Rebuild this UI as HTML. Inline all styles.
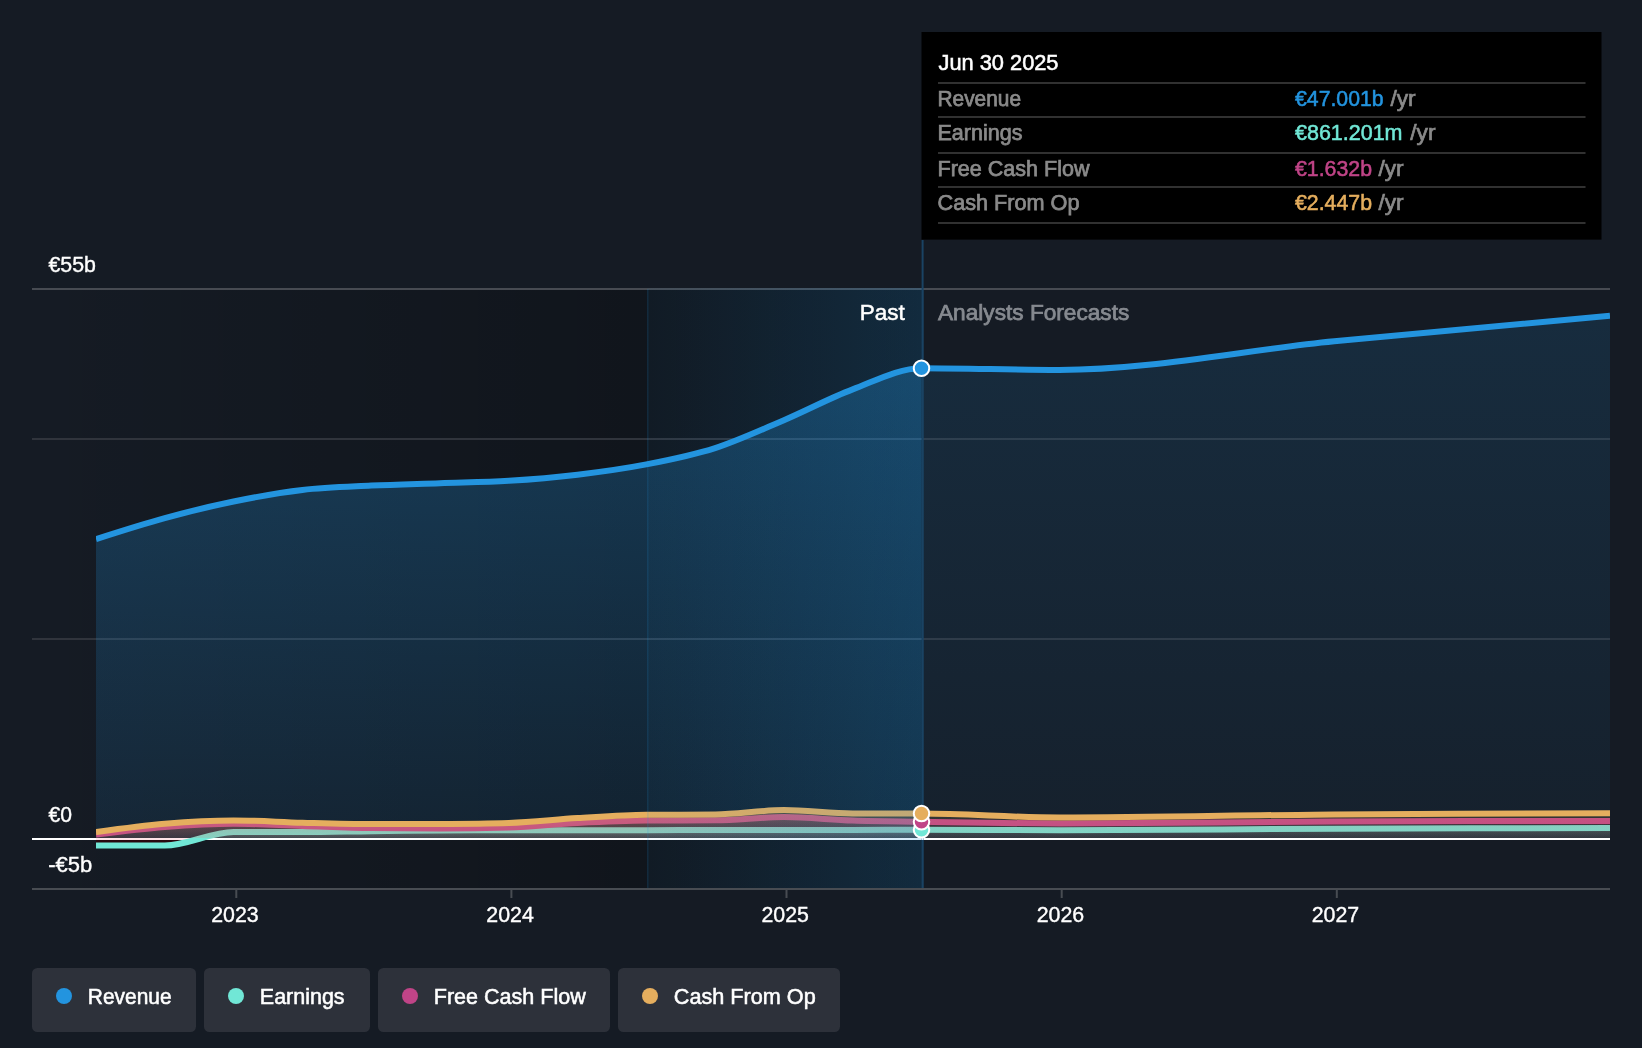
<!DOCTYPE html><html><head><meta charset="utf-8"><title>Earnings and Revenue</title>
<style>html,body{margin:0;padding:0;background:#151B24;}body{width:1642px;height:1048px;overflow:hidden;}svg{display:block;will-change:transform;}text{font-family:'Liberation Sans',sans-serif;}</style></head><body>
<svg width="1642" height="1048" viewBox="0 0 1642 1048">
<defs>
<linearGradient id="gd" x1="0" x2="1" y1="0" y2="0"><stop offset="0" stop-color="#000" stop-opacity="0"/><stop offset="1" stop-color="#000" stop-opacity="0.333"/></linearGradient>
<linearGradient id="gh" x1="0" x2="1" y1="0" y2="0"><stop offset="0" stop-color="#2394DF" stop-opacity="0.045"/><stop offset="1" stop-color="#2394DF" stop-opacity="0.193"/></linearGradient>
<linearGradient id="grp" gradientUnits="userSpaceOnUse" x1="0" x2="0" y1="368" y2="839"><stop offset="0" stop-color="#2394DF" stop-opacity="0.300"/><stop offset="1" stop-color="#2394DF" stop-opacity="0.100"/></linearGradient>
<linearGradient id="grf" gradientUnits="userSpaceOnUse" x1="0" x2="0" y1="316" y2="839"><stop offset="0" stop-color="#2394DF" stop-opacity="0.140"/><stop offset="1" stop-color="#2394DF" stop-opacity="0.045"/></linearGradient>
<clipPath id="cp"><rect x="96" y="200" width="1514" height="700"/></clipPath>
<linearGradient id="gep" gradientUnits="userSpaceOnUse" x1="0" x2="0" y1="829.7" y2="839"><stop offset="0" stop-color="#71E7D6" stop-opacity="0.330"/><stop offset="1" stop-color="#71E7D6" stop-opacity="0.110"/></linearGradient>
<linearGradient id="gef" gradientUnits="userSpaceOnUse" x1="0" x2="0" y1="829.7" y2="839"><stop offset="0" stop-color="#71E7D6" stop-opacity="0.190"/><stop offset="1" stop-color="#71E7D6" stop-opacity="0.063"/></linearGradient>
<linearGradient id="gfp" gradientUnits="userSpaceOnUse" x1="0" x2="0" y1="817.0" y2="839"><stop offset="0" stop-color="#C04487" stop-opacity="0.300"/><stop offset="1" stop-color="#C04487" stop-opacity="0.100"/></linearGradient>
<linearGradient id="gff" gradientUnits="userSpaceOnUse" x1="0" x2="0" y1="817.0" y2="839"><stop offset="0" stop-color="#C04487" stop-opacity="0.170"/><stop offset="1" stop-color="#C04487" stop-opacity="0.057"/></linearGradient>
<linearGradient id="gcp" gradientUnits="userSpaceOnUse" x1="0" x2="0" y1="810.0" y2="839"><stop offset="0" stop-color="#E5AE5E" stop-opacity="0.300"/><stop offset="1" stop-color="#E5AE5E" stop-opacity="0.100"/></linearGradient>
<linearGradient id="gcf" gradientUnits="userSpaceOnUse" x1="0" x2="0" y1="810.0" y2="839"><stop offset="0" stop-color="#E5AE5E" stop-opacity="0.170"/><stop offset="1" stop-color="#E5AE5E" stop-opacity="0.057"/></linearGradient>
<clipPath id="cpa"><rect x="96" y="200" width="1514" height="638"/></clipPath>
</defs>
<rect width="1642" height="1048" fill="#151B24"/>
<rect x="32" y="288" width="890.7" height="601" fill="url(#gd)"/>
<rect x="32" y="288" width="1578" height="2" fill="#474B52"/>
<rect x="32" y="438" width="1578" height="2" fill="#30343C"/>
<rect x="32" y="638" width="1578" height="2" fill="#30343C"/>
<g clip-path="url(#cp)">
<path d="M96.00,539.10C118.93,531.73 141.87,524.37 164.80,518.10C187.73,511.83 210.67,506.20 233.60,501.50C256.53,496.80 279.47,492.55 302.40,489.90C325.33,487.25 348.27,486.72 371.20,485.60C394.13,484.48 417.07,484.00 440.00,483.20C462.93,482.40 485.87,482.22 508.80,480.80C531.70,479.38 554.60,477.43 577.50,474.70C600.43,471.97 623.37,468.83 646.30,464.40C669.23,459.97 692.17,455.47 715.10,448.10C738.03,440.73 760.97,429.98 783.90,420.20C806.83,410.42 829.77,398.07 852.70,389.40C875.63,380.73 898.57,368.20 921.50,368.20L921.50,839 L96.00,839 Z" fill="url(#grp)"/>
<path d="M921.50,368.20C967.37,368.20 1013.23,370.00 1059.10,370.00C1150.80,370.00 1242.50,350.32 1334.20,341.30C1426.13,332.25 1518.07,324.03 1610.00,315.80L1610.00,839 L921.50,839 Z" fill="url(#grf)"/>
</g>
<rect x="32" y="838" width="1578" height="2" fill="#fff"/>
<g clip-path="url(#cp)" fill="none" stroke-width="6" stroke-linejoin="round">
<path d="M96.00,539.10C118.93,531.73 141.87,524.37 164.80,518.10C187.73,511.83 210.67,506.20 233.60,501.50C256.53,496.80 279.47,492.55 302.40,489.90C325.33,487.25 348.27,486.72 371.20,485.60C394.13,484.48 417.07,484.00 440.00,483.20C462.93,482.40 485.87,482.22 508.80,480.80C531.70,479.38 554.60,477.43 577.50,474.70C600.43,471.97 623.37,468.83 646.30,464.40C669.23,459.97 692.17,455.47 715.10,448.10C738.03,440.73 760.97,429.98 783.90,420.20C806.83,410.42 829.77,398.07 852.70,389.40C875.63,380.73 898.57,368.20 921.50,368.20C967.37,368.20 1013.23,370.00 1059.10,370.00C1150.80,370.00 1242.50,350.32 1334.20,341.30C1426.13,332.25 1518.07,324.03 1610.00,315.80" stroke="#2394DF"/>
<rect x="96" y="838" width="96" height="2" fill="#FFE4E8" stroke="none"/>
<rect x="96" y="840" width="96" height="5" fill="#28080F" stroke="none"/>
<g clip-path="url(#cpa)" stroke="none"><path d="M96.00,845.50C118.93,845.50 141.87,845.50 164.80,845.50C187.73,845.50 210.67,832.00 233.60,832.00C256.53,832.00 279.47,832.10 302.40,832.10C325.33,832.10 348.27,831.47 371.20,831.20C394.13,830.93 417.07,830.67 440.00,830.50C462.93,830.33 485.87,830.20 508.80,830.20C531.70,830.20 554.60,830.20 577.50,830.20C600.43,830.20 623.37,830.20 646.30,830.20C669.23,830.20 692.17,830.00 715.10,830.00C738.03,830.00 760.97,830.00 783.90,830.00C806.83,830.00 829.77,830.00 852.70,830.00C875.63,830.00 898.57,829.70 921.50,829.70L921.50,839 L96.00,839 Z" fill="url(#gep)"/>
<path d="M921.50,829.70C967.37,829.70 1013.23,830.20 1059.10,830.20C1150.80,830.20 1242.50,829.07 1334.20,828.70C1426.13,828.33 1518.07,828.17 1610.00,828.00L1610.00,839 L921.50,839 Z" fill="url(#gef)"/></g>
<path d="M96.00,845.50C118.93,845.50 141.87,845.50 164.80,845.50C187.73,845.50 210.67,832.00 233.60,832.00C256.53,832.00 279.47,832.10 302.40,832.10C325.33,832.10 348.27,831.47 371.20,831.20C394.13,830.93 417.07,830.67 440.00,830.50C462.93,830.33 485.87,830.20 508.80,830.20C531.70,830.20 554.60,830.20 577.50,830.20C600.43,830.20 623.37,830.20 646.30,830.20C669.23,830.20 692.17,830.00 715.10,830.00C738.03,830.00 760.97,830.00 783.90,830.00C806.83,830.00 829.77,830.00 852.70,830.00C875.63,830.00 898.57,829.70 921.50,829.70C967.37,829.70 1013.23,830.20 1059.10,830.20C1150.80,830.20 1242.50,829.07 1334.20,828.70C1426.13,828.33 1518.07,828.17 1610.00,828.00" stroke="#71E7D6"/>
<g clip-path="url(#cpa)" stroke="none"><path d="M96.00,834.50C118.93,831.65 141.87,828.80 164.80,827.00C187.73,825.20 210.67,823.70 233.60,823.70C256.53,823.70 279.47,825.17 302.40,825.90C325.33,826.63 348.27,827.90 371.20,828.10C394.13,828.30 417.07,828.40 440.00,828.40C462.93,828.40 485.87,828.07 508.80,827.40C531.70,826.73 554.60,824.05 577.50,822.90C600.43,821.75 623.37,820.63 646.30,820.50C669.23,820.37 692.17,820.43 715.10,820.30C738.03,820.17 760.97,817.10 783.90,817.10C806.83,817.10 829.77,819.73 852.70,820.50C875.63,821.27 898.57,821.34 921.50,821.70L921.50,839 L96.00,839 Z" fill="url(#gfp)"/>
<path d="M921.50,821.70C967.37,822.42 1013.23,823.40 1059.10,823.40C1150.80,823.40 1242.50,821.90 1334.20,821.50C1426.13,821.10 1518.07,821.00 1610.00,820.90L1610.00,839 L921.50,839 Z" fill="url(#gff)"/></g>
<path d="M96.00,834.50C118.93,831.65 141.87,828.80 164.80,827.00C187.73,825.20 210.67,823.70 233.60,823.70C256.53,823.70 279.47,825.17 302.40,825.90C325.33,826.63 348.27,827.90 371.20,828.10C394.13,828.30 417.07,828.40 440.00,828.40C462.93,828.40 485.87,828.07 508.80,827.40C531.70,826.73 554.60,824.05 577.50,822.90C600.43,821.75 623.37,820.63 646.30,820.50C669.23,820.37 692.17,820.43 715.10,820.30C738.03,820.17 760.97,817.10 783.90,817.10C806.83,817.10 829.77,819.73 852.70,820.50C875.63,821.27 898.57,821.34 921.50,821.70C967.37,822.42 1013.23,823.40 1059.10,823.40C1150.80,823.40 1242.50,821.90 1334.20,821.50C1426.13,821.10 1518.07,821.00 1610.00,820.90" stroke="#C04487"/>
<g clip-path="url(#cpa)" stroke="none"><path d="M96.00,832.00C118.93,828.82 141.87,825.63 164.80,823.70C187.73,821.77 210.67,820.40 233.60,820.40C256.53,820.40 279.47,822.08 302.40,822.70C325.33,823.32 348.27,824.10 371.20,824.10C394.13,824.10 417.07,824.03 440.00,823.90C462.93,823.77 485.87,823.57 508.80,822.90C531.70,822.23 554.60,819.45 577.50,818.10C600.43,816.75 623.37,815.00 646.30,814.80C669.23,814.60 692.17,814.70 715.10,814.50C738.03,814.30 760.97,810.10 783.90,810.10C806.83,810.10 829.77,813.43 852.70,813.50C875.63,813.57 898.57,813.53 921.50,813.60L921.50,839 L96.00,839 Z" fill="url(#gcp)"/>
<path d="M921.50,813.60C967.37,813.73 1013.23,817.50 1059.10,817.50C1150.80,817.50 1242.50,815.12 1334.20,814.40C1426.13,813.68 1518.07,813.44 1610.00,813.20L1610.00,839 L921.50,839 Z" fill="url(#gcf)"/></g>
<path d="M96.00,832.00C118.93,828.82 141.87,825.63 164.80,823.70C187.73,821.77 210.67,820.40 233.60,820.40C256.53,820.40 279.47,822.08 302.40,822.70C325.33,823.32 348.27,824.10 371.20,824.10C394.13,824.10 417.07,824.03 440.00,823.90C462.93,823.77 485.87,823.57 508.80,822.90C531.70,822.23 554.60,819.45 577.50,818.10C600.43,816.75 623.37,815.00 646.30,814.80C669.23,814.60 692.17,814.70 715.10,814.50C738.03,814.30 760.97,810.10 783.90,810.10C806.83,810.10 829.77,813.43 852.70,813.50C875.63,813.57 898.57,813.53 921.50,813.60C967.37,813.73 1013.23,817.50 1059.10,817.50C1150.80,817.50 1242.50,815.12 1334.20,814.40C1426.13,813.68 1518.07,813.44 1610.00,813.20" stroke="#E5AE5E"/>
</g>
<rect x="647.5" y="288" width="276.1" height="601" fill="url(#gh)"/>
<rect x="647.00" y="289" width="1.5" height="600" fill="#2394DF" fill-opacity="0.15"/>
<rect x="921.60" y="240" width="2" height="649" fill="#1A4363"/>
<rect x="921.60" y="838" width="2" height="2" fill="#E1F1FF"/>
<rect x="32" y="888" width="1578" height="2" fill="#484C52"/>
<rect x="235.30" y="890" width="2" height="8" fill="#484C52"/>
<text x="235.0" y="921.8" font-size="22.60" fill="#fff" text-anchor="middle" font-weight="normal" textLength="47.5" lengthAdjust="spacingAndGlyphs" stroke="#fff" stroke-width="0.40" >2023</text>
<rect x="510.40" y="890" width="2" height="8" fill="#484C52"/>
<text x="510.1" y="921.8" font-size="22.60" fill="#fff" text-anchor="middle" font-weight="normal" textLength="47.5" lengthAdjust="spacingAndGlyphs" stroke="#fff" stroke-width="0.40" >2024</text>
<rect x="785.50" y="890" width="2" height="8" fill="#484C52"/>
<text x="785.2" y="921.8" font-size="22.60" fill="#fff" text-anchor="middle" font-weight="normal" textLength="47.5" lengthAdjust="spacingAndGlyphs" stroke="#fff" stroke-width="0.40" >2025</text>
<rect x="1060.70" y="890" width="2" height="8" fill="#484C52"/>
<text x="1060.4" y="921.8" font-size="22.60" fill="#fff" text-anchor="middle" font-weight="normal" textLength="47.5" lengthAdjust="spacingAndGlyphs" stroke="#fff" stroke-width="0.40" >2026</text>
<rect x="1335.80" y="890" width="2" height="8" fill="#484C52"/>
<text x="1335.5" y="921.8" font-size="22.60" fill="#fff" text-anchor="middle" font-weight="normal" textLength="47.5" lengthAdjust="spacingAndGlyphs" stroke="#fff" stroke-width="0.40" >2027</text>
<text x="48.5" y="272.0" font-size="22.60" fill="#fff" text-anchor="start" font-weight="normal" textLength="47.5" lengthAdjust="spacingAndGlyphs" stroke="#fff" stroke-width="0.40" >€55b</text>
<text x="48.5" y="822.0" font-size="22.60" fill="#fff" text-anchor="start" font-weight="normal" textLength="23.5" lengthAdjust="spacingAndGlyphs" stroke="#fff" stroke-width="0.40" >€0</text>
<text x="48.2" y="872.0" font-size="22.60" fill="#fff" text-anchor="start" font-weight="normal" textLength="44.0" lengthAdjust="spacingAndGlyphs" stroke="#fff" stroke-width="0.40" >-€5b</text>
<text x="859.8" y="320.0" font-size="22.00" fill="#fff" text-anchor="start" font-weight="normal" textLength="45.0" lengthAdjust="spacingAndGlyphs" stroke="#fff" stroke-width="0.50" >Past</text>
<text x="938.0" y="320.0" font-size="22.00" fill="#868A90" text-anchor="start" font-weight="normal" textLength="191.3" lengthAdjust="spacingAndGlyphs" stroke="#868A90" stroke-width="0.75" >Analysts Forecasts</text>
<circle cx="921.5" cy="829.7" r="7.75" fill="#71E7D6" stroke="#fff" stroke-width="2"/>
<circle cx="921.5" cy="821.7" r="7.75" fill="#C04487" stroke="#fff" stroke-width="2"/>
<circle cx="921.5" cy="813.5" r="7.75" fill="#E5AE5E" stroke="#fff" stroke-width="2"/>
<circle cx="921.5" cy="368.2" r="7.75" fill="#2394DF" stroke="#fff" stroke-width="2"/>
<rect x="921.5" y="32" width="680" height="207.6" fill="#000"/>
<text x="938.5" y="69.7" font-size="22.00" fill="#fff" text-anchor="start" font-weight="normal" textLength="120.0" lengthAdjust="spacingAndGlyphs" stroke="#fff" stroke-width="0.55" >Jun 30 2025</text>
<rect x="938" y="82.25" width="647.5" height="1.5" fill="#424242"/>
<rect x="938" y="116.25" width="647.5" height="1.5" fill="#424242"/>
<rect x="938" y="152.25" width="647.5" height="1.5" fill="#424242"/>
<rect x="938" y="186.25" width="647.5" height="1.5" fill="#424242"/>
<rect x="938" y="222.25" width="647.5" height="1.5" fill="#424242"/>
<text x="937.5" y="105.8" font-size="22.00" fill="#8A8A8A" text-anchor="start" font-weight="normal" textLength="83.5" lengthAdjust="spacingAndGlyphs" stroke="#8A8A8A" stroke-width="0.75" >Revenue</text>
<text x="1295.0" y="105.8" font-size="22.00" fill="#2394DF" text-anchor="start" font-weight="normal" textLength="88.6" lengthAdjust="spacingAndGlyphs" stroke="#2394DF" stroke-width="0.55" >€47.001b</text>
<text x="1390.4" y="105.8" font-size="22.00" fill="#8A8A8A" text-anchor="start" font-weight="normal" textLength="25.2" lengthAdjust="spacingAndGlyphs" stroke="#8A8A8A" stroke-width="0.70" >/yr</text>
<text x="937.5" y="139.9" font-size="22.00" fill="#8A8A8A" text-anchor="start" font-weight="normal" textLength="85.0" lengthAdjust="spacingAndGlyphs" stroke="#8A8A8A" stroke-width="0.75" >Earnings</text>
<text x="1295.0" y="139.9" font-size="22.00" fill="#71E7D6" text-anchor="start" font-weight="normal" textLength="107.5" lengthAdjust="spacingAndGlyphs" stroke="#71E7D6" stroke-width="0.55" >€861.201m</text>
<text x="1410.3" y="139.9" font-size="22.00" fill="#8A8A8A" text-anchor="start" font-weight="normal" textLength="25.2" lengthAdjust="spacingAndGlyphs" stroke="#8A8A8A" stroke-width="0.70" >/yr</text>
<text x="937.5" y="175.6" font-size="22.00" fill="#8A8A8A" text-anchor="start" font-weight="normal" textLength="152.0" lengthAdjust="spacingAndGlyphs" stroke="#8A8A8A" stroke-width="0.75" >Free Cash Flow</text>
<text x="1295.0" y="175.6" font-size="22.00" fill="#C04487" text-anchor="start" font-weight="normal" textLength="77.0" lengthAdjust="spacingAndGlyphs" stroke="#C04487" stroke-width="0.55" >€1.632b</text>
<text x="1378.4" y="175.6" font-size="22.00" fill="#8A8A8A" text-anchor="start" font-weight="normal" textLength="25.2" lengthAdjust="spacingAndGlyphs" stroke="#8A8A8A" stroke-width="0.70" >/yr</text>
<text x="937.5" y="209.8" font-size="22.00" fill="#8A8A8A" text-anchor="start" font-weight="normal" textLength="142.0" lengthAdjust="spacingAndGlyphs" stroke="#8A8A8A" stroke-width="0.75" >Cash From Op</text>
<text x="1295.0" y="209.8" font-size="22.00" fill="#E5AE5E" text-anchor="start" font-weight="normal" textLength="77.0" lengthAdjust="spacingAndGlyphs" stroke="#E5AE5E" stroke-width="0.55" >€2.447b</text>
<text x="1378.4" y="209.8" font-size="22.00" fill="#8A8A8A" text-anchor="start" font-weight="normal" textLength="25.2" lengthAdjust="spacingAndGlyphs" stroke="#8A8A8A" stroke-width="0.70" >/yr</text>
<rect x="32" y="968" width="164" height="64" rx="5.5" fill="#2D313A"/>
<circle cx="64" cy="996" r="8" fill="#2394DF"/>
<text x="87.8" y="1003.8" font-size="22.00" fill="#fff" text-anchor="start" font-weight="normal" textLength="83.8" lengthAdjust="spacingAndGlyphs" stroke="#fff" stroke-width="0.55" >Revenue</text>
<rect x="204" y="968" width="166" height="64" rx="5.5" fill="#2D313A"/>
<circle cx="236" cy="996" r="8" fill="#71E7D6"/>
<text x="259.8" y="1003.8" font-size="22.00" fill="#fff" text-anchor="start" font-weight="normal" textLength="84.8" lengthAdjust="spacingAndGlyphs" stroke="#fff" stroke-width="0.55" >Earnings</text>
<rect x="378" y="968" width="232" height="64" rx="5.5" fill="#2D313A"/>
<circle cx="410" cy="996" r="8" fill="#C04487"/>
<text x="433.8" y="1003.8" font-size="22.00" fill="#fff" text-anchor="start" font-weight="normal" textLength="152.0" lengthAdjust="spacingAndGlyphs" stroke="#fff" stroke-width="0.55" >Free Cash Flow</text>
<rect x="618" y="968" width="222" height="64" rx="5.5" fill="#2D313A"/>
<circle cx="650" cy="996" r="8" fill="#E5AE5E"/>
<text x="673.8" y="1003.8" font-size="22.00" fill="#fff" text-anchor="start" font-weight="normal" textLength="141.9" lengthAdjust="spacingAndGlyphs" stroke="#fff" stroke-width="0.55" >Cash From Op</text>
</svg></body></html>
